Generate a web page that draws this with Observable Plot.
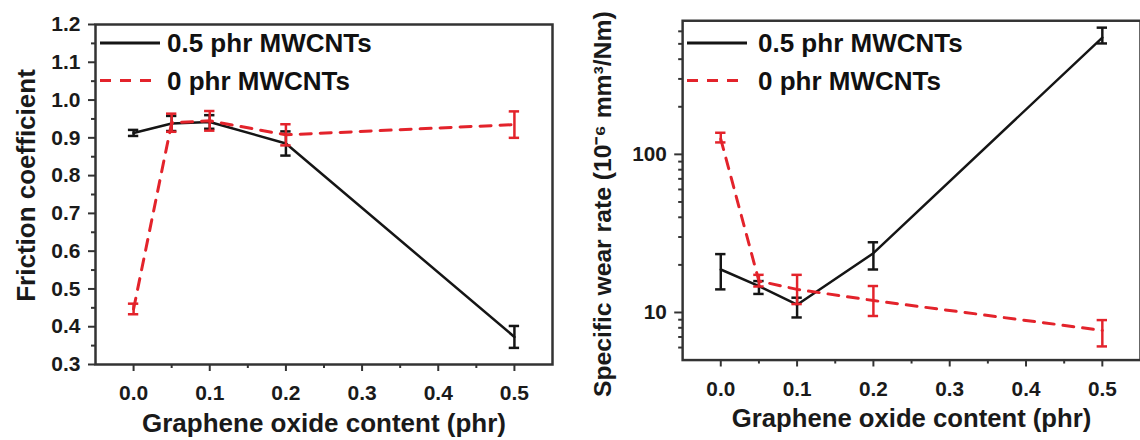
<!DOCTYPE html>
<html><head><meta charset="utf-8">
<script src="https://cdn.jsdelivr.net/npm/d3@7"></script>
<script src="https://cdn.jsdelivr.net/npm/@observablehq/plot@0.6"></script>
<style>
body{margin:0;background:#fff;}
#wrap{position:relative;width:1140px;height:440px;overflow:hidden;background:#fff;}
.panel{position:absolute;top:0;}
.legend{position:absolute;top:0;overflow:visible;}
</style></head><body>
<div id="wrap"></div>
<script>
// ---- data ----
const content = [0.0, 0.05, 0.1, 0.2, 0.5];
const seriesNames = ["0.5 phr MWCNTs", "0 phr MWCNTs"];
const frictionWith = [0.913, 0.938, 0.942, 0.885, 0.373];
const frictionWithErr = [0.008, 0.02, 0.018, 0.032, 0.029];
const frictionWithout = [0.447, 0.94, 0.945, 0.908, 0.935];
const frictionWithoutErr = [0.014, 0.024, 0.026, 0.028, 0.035];
const wearWith = [18.7, 14.7, 11.2, 23.7, 548];
const wearWithLo = [14.0, 13.1, 9.3, 18.7, 503];
const wearWithHi = [23.4, 15.8, 12.4, 27.8, 633];
const wearWithout = [125, 15.8, 14.0, 11.9, 7.7];
const wearWithoutLo = [119, 14.6, 11.3, 9.5, 6.1];
const wearWithoutHi = [137, 17.3, 17.3, 14.7, 8.95];
const xTicks = [0, 0.1, 0.2, 0.3, 0.4, 0.5];
const xMinorTicks = [0.05, 0.15, 0.25, 0.35, 0.45];
const frictionTicks = [0.3, 0.4, 0.5, 0.6, 0.7, 0.8, 0.9, 1.0, 1.1, 1.2];
const frictionMinorTicks = [0.35, 0.45, 0.55, 0.65, 0.75, 0.85, 0.95, 1.05, 1.15];
const wearTicks = [10, 100];
const wearMinorTicks = [6, 7, 8, 9, 20, 30, 40, 50, 60, 70, 80, 90, 200, 300, 400, 500, 600];
const xTitle = "Graphene oxide content (phr)";
const frictionTitle = "Friction coefficient";
const wearTitle = "Specific wear rate (10⁻⁶ mm³/Nm)";

// ---- styles ----
const FONT = '"Liberation Sans", Arial, Helvetica, sans-serif';
const AX = "#333";
const BLACK = "#151515";
const RED = "#e3232b";
const DASH = "11,9";
const CAP = 0.0068;

const frictionRows = [];
content.forEach((x, i) => {
  frictionRows.push({x, series: seriesNames[0], y: frictionWith[i], lo: frictionWith[i] - frictionWithErr[i], hi: frictionWith[i] + frictionWithErr[i]});
  frictionRows.push({x, series: seriesNames[1], y: frictionWithout[i], lo: frictionWithout[i] - frictionWithoutErr[i], hi: frictionWithout[i] + frictionWithoutErr[i]});
});
const wearRows = [];
content.forEach((x, i) => {
  wearRows.push({x, series: seriesNames[0], y: wearWith[i], lo: wearWithLo[i], hi: wearWithHi[i]});
  wearRows.push({x, series: seriesNames[1], y: wearWithout[i], lo: wearWithoutLo[i], hi: wearWithoutHi[i]});
});

function seriesMarks(rows) {
  const out = [];
  [[seriesNames[0], BLACK, null, 2.5], [seriesNames[1], RED, DASH, 3]].forEach(([name, color, dash, w]) => {
    const d = rows.filter(r => r.series === name);
    out.push(Plot.line(d, {x: "x", y: "y", stroke: color, strokeWidth: w, strokeDasharray: dash}));
    out.push(Plot.ruleX(d, {x: "x", y1: "lo", y2: "hi", stroke: color, strokeWidth: 2.5}));
    out.push(Plot.ruleY(d, {y: "lo", x1: r => r.x - CAP, x2: r => r.x + CAP, stroke: color, strokeWidth: 2.5}));
    out.push(Plot.ruleY(d, {y: "hi", x1: r => r.x - CAP, x2: r => r.x + CAP, stroke: color, strokeWidth: 2.5}));
  });
  return out;
}

const common = {
  style: {fontFamily: FONT, fontWeight: "bold", fontSize: "21px", color: "#1a1a1a", background: "transparent", overflow: "visible"}
};
const titleStyle = {fontWeight: "bold", fill: "#1a1a1a", textAnchor: "middle", lineAnchor: "middle"};

const left = Plot.plot({
  ...common,
  width: 570, height: 440,
  marginLeft: 95, marginRight: 18, marginTop: 24, marginBottom: 76,
  x: {domain: [-0.05, 0.55]},
  y: {domain: [0.3, 1.2]},
  marks: [
    ...seriesMarks(frictionRows),
    Plot.frame({stroke: AX, strokeWidth: 2.5}),
    Plot.axisX(xTicks, {tickSize: 7, tickPadding: 14, tickFormat: d3.format(".1f"), stroke: AX, strokeWidth: 2, label: null}),
    Plot.axisX(xMinorTicks, {tickSize: 4, stroke: AX, strokeWidth: 2, fill: "none", label: null}),
    Plot.axisY(frictionTicks, {tickSize: 7, tickPadding: 8, tickFormat: d3.format(".1f"), stroke: AX, strokeWidth: 2, label: null}),
    Plot.axisY(frictionMinorTicks, {tickSize: 4, stroke: AX, strokeWidth: 2, fill: "none", label: null}),
    Plot.text([frictionTitle], {...titleStyle, frameAnchor: "left", rotate: -90, dx: -69, dy: -9, fontSize: 26}),
    Plot.text([xTitle], {...titleStyle, frameAnchor: "bottom", dy: 59, fontSize: 26})
  ]
});

const right = Plot.plot({
  ...common,
  width: 577, height: 440,
  marginLeft: 113.5, marginRight: 0, marginTop: 20.5, marginBottom: 76,
  x: {domain: [-0.05, 0.55]},
  y: {type: "log", domain: [5, 700]},
  marks: [
    ...seriesMarks(wearRows),
    Plot.frame({stroke: AX, strokeWidth: 2.5}),
    Plot.axisX(xTicks, {tickSize: 7, tickPadding: 14, tickFormat: d3.format(".1f"), stroke: AX, strokeWidth: 2, label: null}),
    Plot.axisX(xMinorTicks, {tickSize: 4, stroke: AX, strokeWidth: 2, fill: "none", label: null}),
    Plot.axisY(wearTicks, {tickSize: 8, tickPadding: 8, tickFormat: d3.format("d"), stroke: AX, strokeWidth: 2, label: null}),
    Plot.axisY(wearMinorTicks, {tickSize: 4, stroke: AX, strokeWidth: 2, fill: "none", label: null}),
    Plot.text([wearTitle], {...titleStyle, frameAnchor: "left", rotate: -90, dx: -80, dy: 14, fontSize: 25}),
    Plot.text([xTitle], {...titleStyle, frameAnchor: "bottom", dy: 59, fontSize: 26})
  ]
});

const wrap = document.getElementById("wrap");
const p1 = document.createElement("div"); p1.className = "panel"; p1.style.left = "0px"; p1.appendChild(left);
const p2 = document.createElement("div"); p2.className = "panel"; p2.style.left = "570px"; p2.appendChild(right);
wrap.appendChild(p1); wrap.appendChild(p2);

// ---- legends (inside each panel, top-left) ----
function legend(left0, textX) {
  const svg = d3.select(wrap).append("svg").attr("class", "legend")
    .attr("width", 420).attr("height", 110).style("left", left0 + "px");
  const rows = [[seriesNames[0], BLACK, null, 3, 43], [seriesNames[1], RED, DASH, 3, 80.5]];
  rows.forEach(([name, color, dash, w, cy]) => {
    svg.append("line").attr("x1", 0).attr("x2", 60).attr("y1", cy).attr("y2", cy)
      .attr("stroke", color).attr("stroke-width", w).attr("stroke-dasharray", dash);
    svg.append("text").attr("x", textX).attr("y", cy + 9.3).text(name)
      .attr("font-family", FONT).attr("font-weight", "bold").attr("font-size", 26).attr("fill", "#111");
  });
}
legend(100, 67);
legend(687, 71);
</script>
</body></html>
